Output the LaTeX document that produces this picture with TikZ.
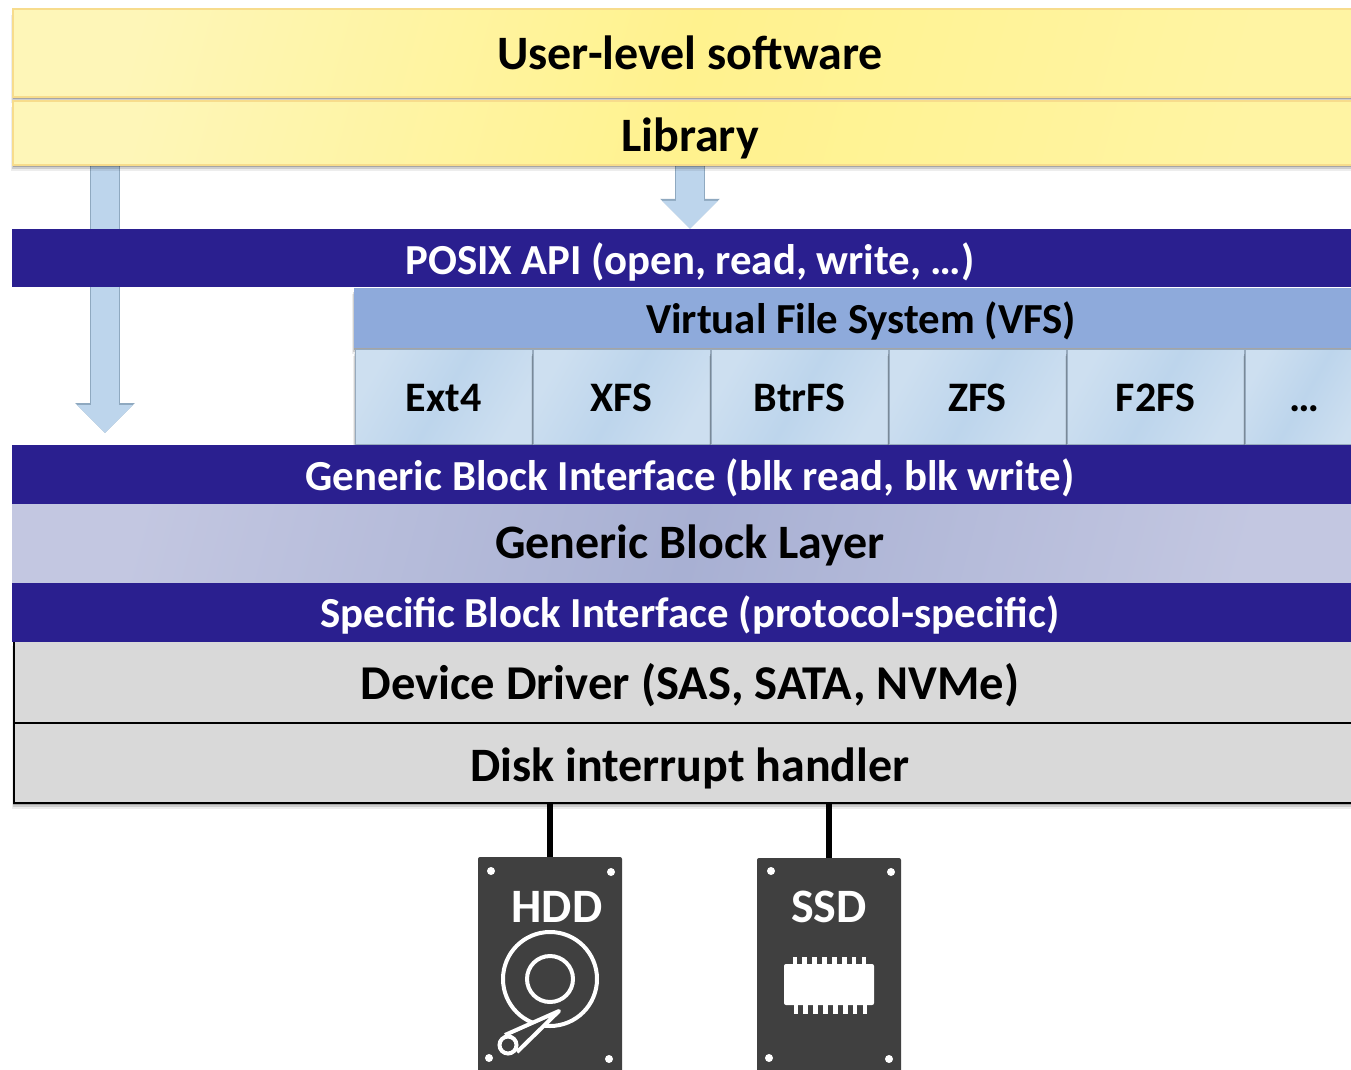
\documentclass[tikz,border=0pt]{standalone}
\usepackage{fontspec}
\setmainfont{Carlito}
\usetikzlibrary{arrows.meta, backgrounds, shadows}
\definecolor{azulOscuro}{HTML}{2A1F8F}
\definecolor{azulVFS}{HTML}{8EAADB}
\definecolor{azulFlecha}{HTML}{BDD5EC}
\definecolor{azulClaro}{HTML}{CDDFF0}
\definecolor{bordeFlecha}{HTML}{8FA9C0}
\definecolor{amarilloClaro}{HTML}{FEF6B8}
\definecolor{amarilloFuerte}{HTML}{FFF28E}
\definecolor{bordeAmarillo}{HTML}{F7DC8C}
\definecolor{lilaClaro}{HTML}{C3C7E1}
\definecolor{lilaFuerte}{HTML}{A8B0D3}
\definecolor{grisCapa}{HTML}{D9D9D9}
\definecolor{grisIcono}{HTML}{404040}
\tikzstyle{sombra} = [general shadow={shadow xshift=-0.5pt, shadow yshift=-2pt, fill=black, opacity=0.2},
                      general shadow={shadow xshift=-1pt, shadow yshift=-4pt, fill=black, opacity=0.13},
                      general shadow={shadow xshift=-2pt, shadow yshift=-6pt, fill=black, opacity=0.07}]
\tikzstyle{capa} = [rectangle,
                    minimum width=1356pt,
                    text centered,
                    inner sep=0pt,
                    text height=32pt,
                    text depth=0pt,
                    font=\fontsize{42.8}{0}\selectfont\bfseries]
\tikzstyle{usuario} = [capa,
                       draw=bordeAmarillo,
                       line width=1.5pt,
                       minimum width=1354pt,
                       left color=amarilloClaro,
                       right color=amarilloClaro!50!amarilloFuerte,
                       middle color=amarilloFuerte,
                       shading angle=75,
                       sombra,
                       font=\fontsize{48}{0}\selectfont\bfseries]
\tikzstyle{interfaz} = [capa,
                        fill=azulOscuro,
                        text=white]
\tikzstyle{sistema} = [rectangle,
                       draw=black!20!azulFlecha,
                       line width=1pt,
                       minimum width=177pt,
                       minimum height=95pt,
                       inner sep=0pt,
                       text height=28pt,
                       text depth=0pt,
                       left color=azulClaro,
                       right color=azulClaro,
                       middle color=azulFlecha,
                       shading angle=60,
                       sombra,
                       font=\fontsize{42}{0}\selectfont\bfseries]
\tikzstyle{driver} = [capa,
                      draw=black,
                      line width=2pt,
                      minimum width=1353pt,
                      fill=grisCapa,
                      minimum height=80pt,
                      sombra,
                      font=\fontsize{48.6}{0}\selectfont\bfseries]
\tikzstyle{flechaBloque} = [line width=28pt,
                            draw=azulFlecha,
                            -{Triangle[length=28pt,width=54pt]},
                            preaction={draw=bordeFlecha,line width=30pt,-{Triangle[length=30pt,width=58pt]}}]
\tikzstyle{cable} = [line width=5.5pt,draw=black]
\tikzstyle{disco} = [rectangle,
                     rounded corners=2pt,
                     fill=grisIcono,
                     minimum width=144pt,
                     minimum height=240pt,
                     inner sep=0pt]
\tikzstyle{etiqueta} = [text=white,inner sep=0pt,font=\fontsize{48}{0}\selectfont\bfseries]
\tikzstyle{punto} = [fill=white,draw=none]
\tikzstyle{trazo} = [draw=white,line width=4pt]

\begin{document}
\begin{tikzpicture}[x=1pt,y=-1pt]
        \useasboundingbox (0,0) rectangle (1351,1070);

        \node (User) [usuario, minimum height=88pt, text height=34pt] at (690,53) {User-level software};
        \node (Library) [usuario, minimum height=64pt, text height=36pt, below of=User, node distance=80pt] {Library};
        \node (Posix) [interfaz, minimum height=58pt, below of=Library, node distance=125pt] {POSIX API (open, read, write, …)};
        \node (VFS) [capa, fill=azulVFS, sombra, minimum width=1014pt, minimum height=60pt, text height=30pt] at (861,318) {Virtual File System (VFS)};

        \node (Ext4) [sistema] at (443.5,397) {Ext4};
        \node (XFS) [sistema, right of=Ext4, node distance=178pt] {XFS};
        \node (BtrFS) [sistema, right of=XFS, node distance=178pt] {BtrFS};
        \node (ZFS) [sistema, right of=BtrFS, node distance=178pt] {ZFS};
        \node (F2FS) [sistema, right of=ZFS, node distance=178pt] {F2FS};
        \node (Otros) [sistema, right of=F2FS, node distance=178pt, xshift=-29pt, minimum width=119pt] {…};

        \node (Driver) [driver, minimum height=82.4pt, text height=36pt] at (690,681.5) {Device Driver (SAS, SATA, NVMe)};
        \node (Disk) [driver, text height=37.6pt, below of=Driver, node distance=81.2pt, font=\fontsize{48}{0}\selectfont\bfseries] {Disk interrupt handler};

        \node (GenericIf) [interfaz, minimum height=59pt, below of=Posix, node distance=216pt] {Generic Block Interface (blk read, blk write)};
        \node (GenericLayer) [capa, minimum height=78pt, text height=30pt, below of=GenericIf, node distance=69pt,
                              left color=lilaClaro, right color=lilaClaro, middle color=lilaFuerte, shading angle=75,
                              font=\fontsize{48}{0}\selectfont\bfseries] {Generic Block Layer};
        \node (SpecificIf) [interfaz, minimum height=59pt, text height=30pt, below of=GenericLayer, node distance=69pt] {Specific Block Interface (protocol-specific)};

        \node (HDD) [disco] at (550,977) {};
        \node (SSD) [disco] at (829,978) {};
        \node (HDDlabel) [etiqueta] at (557,907) {HDD};
        \node (SSDlabel) [etiqueta] at (829,907) {SSD};

        % flechas detras de las capas
        \begin{scope}[on background layer]
            \coordinate (aux1) at (105,433);
            \coordinate (aux2) at (Posix.north);
            \draw [flechaBloque] (aux1 |- Library.south) -- (aux1);
            \draw [flechaBloque] (Library.south) -- (aux2);
        \end{scope}

        \draw [cable] (HDD.north |- Disk.south) -- (HDD.north);
        \draw [cable] (SSD.north |- Disk.south) -- (SSD.north);

        % tornillos
        \foreach \px/\py in {491/871, 611/872, 489/1058, 609/1059, 771/871, 891/872, 769/1058, 889/1059}
            \fill [punto] (\px,\py) circle (4pt);

        % disco duro
        \draw [trazo] (550,979) circle (47pt);
        \draw [trazo] (550,979) circle (23pt);
        \draw [trazo, fill=grisIcono, line join=round] (505,1035) -- (559,1011) -- (517,1052);
        \draw [trazo, fill=grisIcono] (508,1045) circle (8.5pt);

        % chip
        \fill [white, rounded corners=2pt] (784,964) rectangle (874,1005);
        \foreach \i in {0,...,7} {
            \fill [white] (792.5+\i*9.9,957) rectangle (797+\i*9.9,965);
            \fill [white] (793.5+\i*9.9,1004) rectangle (798+\i*9.9,1014);
        }
\end{tikzpicture}
\end{document}
